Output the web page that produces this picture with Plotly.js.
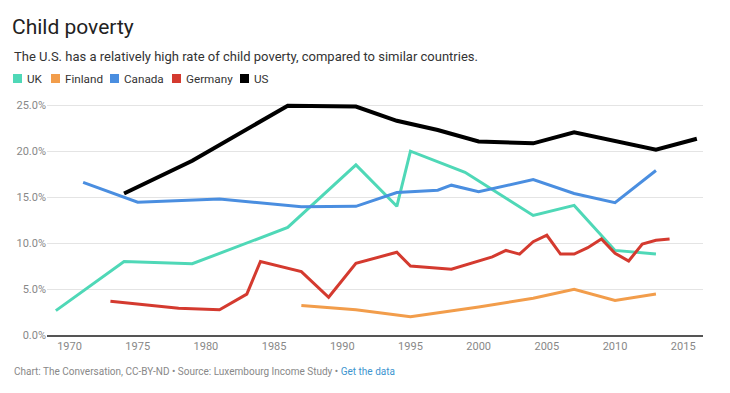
<!DOCTYPE html>
<html>
<head>
<meta charset="utf-8">
<script src="https://cdn.plot.ly/plotly-3.0.1.min.js"></script>
<style>html,body{margin:0;padding:0;background:#fff;}#chart{width:730px;height:393px;}</style>
</head>
<body>
<div id="chart"></div>
<script>
// Data (child poverty rate, %)
const ukYears = [1969, 1974, 1979, 1986, 1991, 1994, 1995, 1999, 2004, 2007, 2010, 2013];
const ukValues = [2.65, 8.0, 7.75, 11.7, 18.5, 14.0, 20.0, 17.7, 13.0, 14.1, 9.2, 8.8];

const finlandYears = [1987, 1991, 1995, 2000, 2004, 2007, 2010, 2013];
const finlandValues = [3.2, 2.75, 2.0, 3.05, 4.0, 4.97, 3.75, 4.45];

const canadaYears = [1971, 1975, 1981, 1987, 1991, 1994, 1997, 1998, 2000, 2004, 2007, 2010, 2013];
const canadaValues = [16.6, 14.45, 14.8, 13.95, 14.0, 15.5, 15.75, 16.3, 15.6, 16.9, 15.4, 14.4, 17.9];

const germanyYears = [1973, 1978, 1981, 1983, 1984, 1987, 1989, 1991, 1994, 1995, 1998, 2000, 2001, 2002, 2003, 2004, 2005, 2006, 2007, 2008, 2009, 2010, 2011, 2012, 2013, 2014];
const germanyValues = [3.66, 2.9, 2.75, 4.45, 8.0, 6.9, 4.1, 7.8, 9.0, 7.5, 7.15, 8.1, 8.5, 9.2, 8.8, 10.15, 10.85, 8.8, 8.8, 9.5, 10.45, 8.9, 8.05, 9.9, 10.3, 10.45];

const usYears = [1974, 1979, 1986, 1991, 1994, 1997, 2000, 2004, 2007, 2010, 2013, 2016];
const usValues = [15.4, 18.95, 24.95, 24.85, 23.3, 22.3, 21.05, 20.85, 22.05, 21.05, 20.15, 21.35];

const seriesNames = ['UK', 'Finland', 'Canada', 'Germany', 'US'];
const seriesColors = ['#4fd8b7', '#f29d4b', '#4a8ee0', '#d43a2f', '#000000'];
const seriesWidths = [3, 3, 3, 3, 4];
const seriesX = [ukYears, finlandYears, canadaYears, germanyYears, usYears];
const seriesY = [ukValues, finlandValues, canadaValues, germanyValues, usValues];

const yTickVals = [0, 5, 10, 15, 20, 25];
const yTickText = ['0.0%', '5.0%', '10.0%', '15.0%', '20.0%', '25.0%'];
const xTickVals = [1970, 1975, 1980, 1985, 1990, 1995, 2000, 2005, 2010, 2015];

const W = 730, H = 393;
const M = {l: 47, r: 27, t: 96, b: 58};
const pw = W - M.l - M.r, ph = H - M.t - M.b;
const px = x => (x - M.l) / pw;
const py = y => (H - M.b - y) / ph;

const traces = seriesNames.map((n, i) => ({
  type: 'scatter', mode: 'lines', name: n,
  x: seriesX[i], y: seriesY[i],
  line: {color: seriesColors[i], width: seriesWidths[i]},
  showlegend: false, hoverinfo: 'x+y+name'
}));

// legend built from shapes + annotations
const legendSquareX = [13, 51, 110, 172, 240];
const shapes = [];
const annotations = [];
seriesNames.forEach((n, i) => {
  const x0 = legendSquareX[i];
  shapes.push({type: 'rect', xref: 'paper', yref: 'paper',
    x0: px(x0), x1: px(x0 + 9), y0: py(83), y1: py(74),
    fillcolor: seriesColors[i], line: {width: 0}});
  annotations.push({xref: 'paper', yref: 'paper', x: px(x0 + 12), y: py(79),
    xanchor: 'left', yanchor: 'middle', showarrow: false, text: n,
    font: {family: 'Roboto, sans-serif', size: 11.7, color: '#333'}});
});
annotations.push({xref: 'paper', yref: 'paper', x: px(12), y: py(56),
  xanchor: 'left', yanchor: 'middle', showarrow: false,
  text: 'The U.S. has a relatively high rate of child poverty, compared to similar countries.',
  font: {family: 'Roboto, sans-serif', size: 13, color: '#333'}});
annotations.push({xref: 'paper', yref: 'paper', x: px(12), y: py(371),
  xanchor: 'left', yanchor: 'middle', showarrow: false,
  text: 'Chart: The Conversation, CC-BY-ND • Source: Luxembourg Income Study • <span style="color:#3d95cf">Get the data</span>',
  font: {family: 'Roboto, sans-serif', size: 10, color: '#888'}});

const layout = {
  width: W, height: H,
  margin: M,
  paper_bgcolor: '#fff', plot_bgcolor: '#fff',
  title: {text: 'Child poverty', xref: 'container', yref: 'container',
    x: 12 / W, xanchor: 'left', y: 1 - 27 / H, yanchor: 'middle',
    font: {family: 'Roboto, sans-serif', size: 21, color: '#222'}},
  xaxis: {range: [1968.35, 2016.45], tickvals: xTickVals, ticks: '',
    showgrid: false, zeroline: false, showline: true, linecolor: '#555', linewidth: 2,
    tickfont: {family: 'Roboto, sans-serif', size: 11, color: '#888'}, fixedrange: true},
  yaxis: {range: [0, 26], tickvals: yTickVals, ticktext: yTickText, ticks: '',
    showgrid: true, gridcolor: '#e4e4e4', gridwidth: 1, zeroline: false, showline: false,
    tickfont: {family: 'Roboto, sans-serif', size: 11, color: '#888'}, fixedrange: true},
  shapes: shapes,
  annotations: annotations,
  showlegend: false,
  hovermode: 'closest'
};

Plotly.newPlot('chart', traces, layout, {displayModeBar: false, staticPlot: false});
</script>
</body>
</html>
